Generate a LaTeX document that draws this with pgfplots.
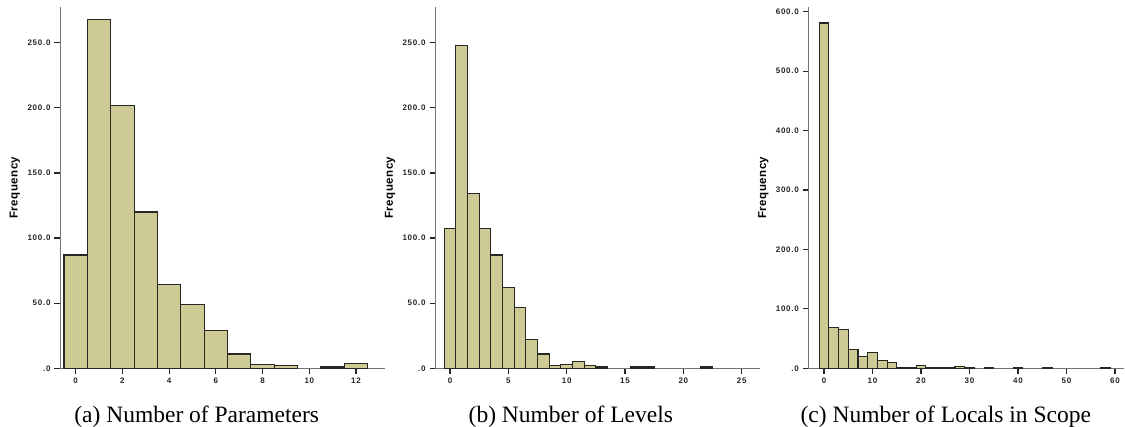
\documentclass[border=0pt]{standalone}
\usepackage{pgfplots}
\pgfplotsset{compat=1.18}
\usepackage{fontspec}
\setmainfont{Liberation Serif}
\newfontfamily\spssfont[LetterSpace=9]{Liberation Sans}
\newfontfamily\labfont[LetterSpace=4]{Liberation Sans}
\definecolor{barfill}{RGB}{205,202,150}
\definecolor{baredge}{RGB}{40,40,35}
\definecolor{axisgray}{RGB}{115,115,115}
\pgfplotsset{
  spss/.style={
    scale only axis,
    axis x line=bottom, axis y line=left,
    axis line style={-, color=axisgray, line width=0.9pt},
    tick align=outside,
    major tick length=5.5pt,
    tick style={draw=black!85, line width=1.2pt},
    ymin=0,
    ticklabel style={font=\spssfont\bfseries\fontsize{8}{9}\selectfont, text=black!85},
    yticklabel style={xshift=-0.5pt},
    xticklabel style={yshift=-1pt},
    ylabel={Frequency},
    ylabel style={font=\labfont\bfseries\fontsize{11.5}{12}\selectfont, anchor=center, rotate=0},
  },
  bars/.style={ybar, fill=barfill, draw=baredge, line width=1.1pt},
}
\begin{document}
\begin{tikzpicture}
\useasboundingbox (0pt,0pt) rectangle (1125pt,427pt);
% (a)
\begin{axis}[spss, at={(60pt,58.7pt)}, anchor=south west,
  width=325pt, height=361.3pt,
  xmin=-0.672, xmax=13.24, ymax=277.4,
  xtick={0,2,...,12}, xticklabels={0,2,4,6,8,10,12},
  ytick={0,50,...,250}, yticklabels={.0,50.0,100.0,150.0,200.0,250.0},
  ylabel style={at={(axis description cs:-0.1385,0.5)}},
]
\addplot[bars, bar width=1] coordinates {
(0,87) (1,268) (2,202) (3,120) (4,64) (5,49) (6,29) (7,11) (8,3) (9,2) (11,1) (12,4)};
\end{axis}
% (b)
\begin{axis}[spss, at={(435pt,58.7pt)}, anchor=south west,
  width=325pt, height=361.3pt,
  xmin=-1.286, xmax=26.57, ymax=277.4,
  xtick={0,5,...,25}, xticklabels={0,5,10,15,20,25},
  ytick={0,50,...,250}, yticklabels={.0,50.0,100.0,150.0,200.0,250.0},
  ylabel style={at={(axis description cs:-0.1385,0.5)}},
]
\addplot[bars, bar width=1] coordinates {
(0,107) (1,248) (2,134) (3,107) (4,87) (5,62) (6,47) (7,22) (8,11) (9,2) (10,3) (11,5) (12,2) (13,1) (16,1) (17,1) (22,1)};
\end{axis}
% (c)
\begin{axis}[spss, at={(808.3pt,58.7pt)}, anchor=south west,
  width=315.7pt, height=361.3pt,
  xmin=-3.24, xmax=61.85, ymax=607.9,
  xtick={0,10,...,60}, xticklabels={0,10,20,30,40,50,60},
  ytick={0,100,...,600}, yticklabels={.0,100.0,200.0,300.0,400.0,500.0,600.0},
  ylabel style={at={(axis description cs:-0.1425,0.5)}},
]
\addplot[bars, bar width=2] coordinates {
(0,581) (2,69) (4,65) (6,32) (8,20) (10,26) (12,13) (14,9) (16,2) (18,2) (20,4) (22,2) (24,2) (26,2) (28,3) (30,2) (34,1) (40,2) (46,1) (58,1)};
\end{axis}
\node[font=\fontsize{23.5}{26}\selectfont, anchor=base] at (196.7pt,4pt) {(a) Number of Parameters};
\node[font=\fontsize{23.5}{26}\selectfont, anchor=base] at (570.8pt,4pt) {(b) Number of Levels};
\node[font=\fontsize{23.5}{26}\selectfont, anchor=base] at (945.8pt,4pt) {(c) Number of Locals in Scope};
\end{tikzpicture}
\end{document}
